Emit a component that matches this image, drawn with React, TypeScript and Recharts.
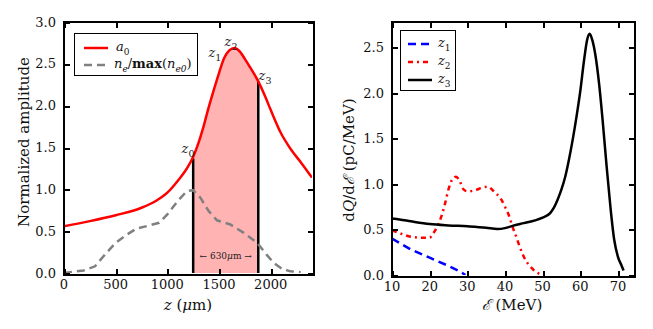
import React from 'react';
import {
  ComposedChart,
  LineChart,
  Line,
  Area,
  XAxis,
  YAxis,
  ReferenceLine,
  ReferenceDot,
} from 'recharts';

// left panel: laser amplitude and density profile along z (um)
const zA0 = [0, 250, 500, 750, 900, 1000, 1100, 1200, 1250, 1300, 1350, 1400, 1450, 1500, 1550, 1600, 1650, 1700, 1750, 1800, 1880, 1950, 2000, 2100, 2200, 2300, 2400];
const a0 = [0.56, 0.62, 0.69, 0.78, 0.87, 0.96, 1.1, 1.27, 1.39, 1.55, 1.75, 1.98, 2.19, 2.39, 2.57, 2.66, 2.69, 2.65, 2.56, 2.46, 2.29, 2.1, 1.95, 1.67, 1.47, 1.31, 1.14];
const zNe = [0, 190, 300, 410, 500, 610, 700, 800, 920, 1000, 1100, 1190, 1250, 1320, 1400, 1480, 1610, 1740, 1870, 1960, 2030, 2110, 2190, 2290];
const ne = [0.0, 0.03, 0.08, 0.24, 0.36, 0.46, 0.53, 0.56, 0.6, 0.7, 0.86, 0.98, 0.99, 0.9, 0.74, 0.63, 0.58, 0.48, 0.36, 0.22, 0.12, 0.05, 0.02, 0.01];
const shadeFrom = 1250;
const shadeTo = 1880;
const zTicks = [0, 500, 1000, 1500, 2000];
const ampTicks = [0, 0.5, 1, 1.5, 2, 2.5, 3];

// z labels (text anchor points in data coords)
const zMarks = [
  { name: '0', z: 1200, a: 1.49 },
  { name: '1', z: 1460, a: 2.64 },
  { name: '2', z: 1616, a: 2.77 },
  { name: '3', z: 1945, a: 2.37 },
];

// right panel: spectra dQ/dE (pC/MeV) vs energy (MeV)
const eZ1 = [10, 15, 20, 25, 28, 29.5];
const qZ1 = [0.4, 0.28, 0.19, 0.1, 0.04, 0];
const eZ2 = [10, 12, 15, 18, 20, 21, 22, 23, 24, 25, 26, 27, 28, 29, 30, 32, 34, 35.5, 37, 39, 40, 41, 42, 43, 44, 45, 46, 47, 48, 49, 50];
const qZ2 = [0.49, 0.46, 0.42, 0.41, 0.41, 0.46, 0.53, 0.63, 0.77, 0.94, 1.05, 1.08, 1.03, 0.94, 0.92, 0.93, 0.96, 0.97, 0.92, 0.83, 0.75, 0.66, 0.53, 0.42, 0.3, 0.2, 0.13, 0.08, 0.04, 0.015, 0];
const eZ3 = [10, 12, 15, 20, 25, 30, 35, 38, 40, 42, 45, 48, 50, 52, 53, 54, 55, 56, 57, 58, 59, 60, 61, 61.8, 62.5, 63.2, 64, 65, 66, 67, 68, 69, 70, 71, 71.5];
const qZ3 = [0.62, 0.61, 0.59, 0.56, 0.545, 0.535, 0.52, 0.505, 0.515, 0.54, 0.57, 0.6, 0.63, 0.68, 0.74, 0.83, 0.94, 1.08, 1.27, 1.49, 1.74, 2.02, 2.36, 2.58, 2.65, 2.58, 2.42, 2.1, 1.67, 1.19, 0.75, 0.39, 0.2, 0.1, 0.05];
const eTicks = [10, 20, 30, 40, 50, 60, 70];
const qTicks = [0, 0.5, 1, 1.5, 2, 2.5];

const a0Data = zA0.map((z, i) => ({ z, v: a0[i] }));
const neData = zNe.map((z, i) => ({ z, v: ne[i] }));
const shadeData = a0Data.filter((d) => d.z >= shadeFrom && d.z <= shadeTo);
const z1Data = eZ1.map((e, i) => ({ e, v: qZ1[i] }));
const z2Data = eZ2.map((e, i) => ({ e, v: qZ2[i] }));
const z3Data = eZ3.map((e, i) => ({ e, v: qZ3[i] }));

const FONT = "'DejaVu Serif', 'Liberation Serif', serif";
const tickStyle = { fontSize: 13, fill: '#111', fontFamily: FONT };
const TICK_PX = 5;

// plot boxes follow from the chart margins + axis sizes below
const LEFT = { w: 330, h: 329, margin: { top: 22, right: 18, bottom: 26, left: 34 } };
const RIGHT = { w: 323, h: 329, margin: { top: 22, right: 20, bottom: 24, left: 32 } };
const AXIS_W = 30;
const AXIS_H = 30;

// matplotlib-style box with inward ticks on all four sides, laid over the plot area
// as plain html (bordered div + small tick bars), like the legend boxes
function FrameBox(props: { chart: typeof LEFT; xDomain: number[]; xTicks: number[]; yDomain: number[]; yTicks: number[] }) {
  const { chart, xDomain, xTicks, yDomain, yTicks } = props;
  const left = chart.margin.left + AXIS_W;
  const top = chart.margin.top;
  const w = chart.w - chart.margin.right - left;
  const h = chart.h - chart.margin.bottom - AXIS_H - top;
  const sx = (v: number) => ((v - xDomain[0]) / (xDomain[1] - xDomain[0])) * w;
  const sy = (v: number) => h - ((v - yDomain[0]) / (yDomain[1] - yDomain[0])) * h;
  const bar = (l: number, t: number, bw: number, bh: number, k: string) => (
    <div key={k} style={{ position: 'absolute', left: l, top: t, width: bw, height: bh, background: '#000' }} />
  );
  return (
    <div
      style={{
        position: 'absolute',
        left: left - 1,
        top: top - 1,
        width: w,
        height: h,
        border: '2px solid #000',
        pointerEvents: 'none',
      }}
    >
      {xTicks.map((t) => [
        bar(sx(t) - 1, h - TICK_PX, 2, TICK_PX, `xb${t}`),
        bar(sx(t) - 1, 0, 2, TICK_PX, `xt${t}`),
      ])}
      {yTicks.map((t) => [
        bar(0, sy(t) - 1, TICK_PX, 2, `yl${t}`),
        bar(w - TICK_PX, sy(t) - 1, TICK_PX, 2, `yr${t}`),
      ])}
    </div>
  );
}

const ZLabel = (props: any) => {
  const { viewBox, idx } = props;
  return (
    <text x={viewBox.x} y={viewBox.y + 5} textAnchor="middle" fontFamily={FONT} fill="#222" fontSize={13}>
      <tspan fontStyle="italic">z</tspan>
      <tspan dy={4} fontSize={9.5}>{idx}</tspan>
    </text>
  );
};

const WidthLabel = (props: any) => {
  const { viewBox } = props;
  return (
    <text x={viewBox.x} y={viewBox.y + 4} textAnchor="middle" fontFamily={FONT} fill="#222" fontSize={9}>
      {'\u2190 630'}
      <tspan fontStyle="italic">{'\u03bc'}</tspan>
      {'m \u2192'}
    </text>
  );
};

const LegendLine = ({ color, dash }: { color: string; dash?: string }) => (
  <svg width={26} height={8} style={{ display: 'block' }}>
    <line x1={1} y1={4} x2={25} y2={4} stroke={color} strokeWidth={2.5} strokeDasharray={dash} />
  </svg>
);

const mathText: React.CSSProperties = { fontFamily: FONT, fontSize: 13, color: '#111', whiteSpace: 'nowrap', lineHeight: 1 };

export default function App() {
  return (
    <div style={{ position: 'absolute', left: 0, top: 0, width: 653, height: 329, background: '#fff' }}>
      {/* left panel */}
      <div style={{ position: 'absolute', left: 0, top: 0, width: LEFT.w, height: LEFT.h }}>
        <ComposedChart width={LEFT.w} height={LEFT.h} margin={LEFT.margin}>
          <XAxis
            xAxisId="b"
            type="number"
            dataKey="z"
            domain={[0, 2400]}
            ticks={zTicks}
            allowDataOverflow
            axisLine={false}
            tickLine={false}
            tickSize={0}
            tickMargin={7}
            tick={tickStyle}
            height={AXIS_H}
          />
          <YAxis
            yAxisId="l"
            type="number"
            domain={[0, 3]}
            ticks={ampTicks}
            allowDataOverflow
            axisLine={false}
            tickLine={false}
            tickSize={0}
            tickMargin={8}
            tick={tickStyle}
            tickFormatter={(v: number) => v.toFixed(1)}
            width={AXIS_W}
          />
          <Area
            xAxisId="b"
            yAxisId="l"
            data={shadeData}
            dataKey="v"
            type="monotone"
            fill="#ffb3b3"
            fillOpacity={1}
            stroke="none"
            isAnimationActive={false}
          />
          <ReferenceLine
            xAxisId="b"
            yAxisId="l"
            segment={[{ x: shadeFrom, y: 0 }, { x: shadeFrom, y: 1.37 }]}
            stroke="#000"
            strokeWidth={2.5}
          />
          <ReferenceLine
            xAxisId="b"
            yAxisId="l"
            segment={[{ x: shadeTo, y: 0 }, { x: shadeTo, y: 2.29 }]}
            stroke="#000"
            strokeWidth={2.5}
          />
          <Line
            xAxisId="b"
            yAxisId="l"
            data={neData}
            dataKey="v"
            type="linear"
            stroke="#808080"
            strokeWidth={2.5}
            strokeDasharray="8 5"
            dot={false}
            isAnimationActive={false}
          />
          <Line
            xAxisId="b"
            yAxisId="l"
            data={a0Data}
            dataKey="v"
            type="monotone"
            stroke="#ff0000"
            strokeWidth={2.5}
            dot={false}
            isAnimationActive={false}
          />
          {zMarks.map((m) => (
            <ReferenceDot
              key={m.name}
              xAxisId="b"
              yAxisId="l"
              x={m.z}
              y={m.a}
              r={0}
              fill="none"
              stroke="none"
              label={<ZLabel idx={m.name} />}
            />
          ))}
          <ReferenceDot
            xAxisId="b"
            yAxisId="l"
            x={(shadeFrom + shadeTo) / 2}
            y={0.21}
            r={0}
            fill="none"
            stroke="none"
            label={<WidthLabel />}
          />
        </ComposedChart>
        <FrameBox chart={LEFT} xDomain={[0, 2400]} xTicks={zTicks} yDomain={[0, 3]} yTicks={ampTicks} />
        {/* legend */}
        <div
          style={{
            position: 'absolute',
            left: 74,
            top: 33,
            width: 122,
            height: 41,
            border: '1.5px solid #000',
            background: '#fff',
          }}
        >
          <div style={{ position: 'absolute', left: 8, top: 6, display: 'flex', alignItems: 'center', gap: 7 }}>
            <LegendLine color="#ff0000" />
            <span style={{ ...mathText, fontStyle: 'italic' }}>
              a<sub style={{ fontSize: 9, fontStyle: 'normal' }}>0</sub>
            </span>
          </div>
          <div style={{ position: 'absolute', left: 8, top: 23, display: 'flex', alignItems: 'center', gap: 5 }}>
            <LegendLine color="#808080" dash="8 5" />
            <span style={mathText}>
              <i>n</i>
              <sub style={{ fontSize: 9, fontStyle: 'italic' }}>e</sub>/<b>max</b>(<i>n</i>
              <sub style={{ fontSize: 9, fontStyle: 'italic' }}>e0</sub>)
            </span>
          </div>
        </div>
        {/* axis titles */}
        <div style={{ ...mathText, position: 'absolute', left: 188, top: 305, transform: 'translate(-50%, -50%)', fontSize: 15 }}>
          <i>z</i> (<i>{'\u03bc'}</i>m)
        </div>
        <div
          style={{
            ...mathText,
            position: 'absolute',
            left: 24,
            top: 142,
            transform: 'translate(-50%, -50%) rotate(-90deg)',
            fontSize: 15,
          }}
        >
          Normalized amplitude
        </div>
      </div>

      {/* right panel */}
      <div style={{ position: 'absolute', left: 330, top: 0, width: RIGHT.w, height: RIGHT.h }}>
        <LineChart width={RIGHT.w} height={RIGHT.h} margin={RIGHT.margin}>
          <XAxis
            xAxisId="b"
            type="number"
            dataKey="e"
            domain={[10, 74]}
            ticks={eTicks}
            allowDataOverflow
            axisLine={false}
            tickLine={false}
            tickSize={0}
            tickMargin={7}
            tick={tickStyle}
            height={AXIS_H}
          />
          <YAxis
            yAxisId="l"
            type="number"
            domain={[0, 2.78]}
            ticks={qTicks}
            allowDataOverflow
            axisLine={false}
            tickLine={false}
            tickSize={0}
            tickMargin={8}
            tick={tickStyle}
            tickFormatter={(v: number) => v.toFixed(1)}
            width={AXIS_W}
          />
          <Line
            xAxisId="b"
            yAxisId="l"
            data={z1Data}
            dataKey="v"
            type="linear"
            stroke="#0000ff"
            strokeWidth={2.5}
            strokeDasharray="8 5"
            dot={false}
            isAnimationActive={false}
          />
          <Line
            xAxisId="b"
            yAxisId="l"
            data={z2Data}
            dataKey="v"
            type="monotone"
            stroke="#ff0000"
            strokeWidth={2.5}
            strokeDasharray="5 4 2 4"
            dot={false}
            isAnimationActive={false}
          />
          <Line
            xAxisId="b"
            yAxisId="l"
            data={z3Data}
            dataKey="v"
            type="monotone"
            stroke="#000"
            strokeWidth={2.5}
            dot={false}
            isAnimationActive={false}
          />
        </LineChart>
        <FrameBox chart={RIGHT} xDomain={[10, 74]} xTicks={eTicks} yDomain={[0, 2.78]} yTicks={qTicks} />
        {/* legend */}
        <div
          style={{
            position: 'absolute',
            left: 70,
            top: 30,
            width: 54,
            height: 59,
            border: '1.5px solid #000',
            background: '#fff',
          }}
        >
          {[
            { color: '#0000ff', dash: '8 5', idx: '1', top: 5 },
            { color: '#ff0000', dash: '5 4 2 4', idx: '2', top: 23 },
            { color: '#000', dash: undefined, idx: '3', top: 41 },
          ].map((r) => (
            <div key={r.idx} style={{ position: 'absolute', left: 6, top: r.top, display: 'flex', alignItems: 'center', gap: 5 }}>
              <LegendLine color={r.color} dash={r.dash} />
              <span style={{ ...mathText, fontStyle: 'italic' }}>
                z<sub style={{ fontSize: 9, fontStyle: 'normal' }}>{r.idx}</sub>
              </span>
            </div>
          ))}
        </div>
        {/* axis titles */}
        <div style={{ ...mathText, position: 'absolute', left: 182, top: 305, transform: 'translate(-50%, -50%)', fontSize: 15 }}>
          <i>{'\u2130'}</i> (MeV)
        </div>
        <div
          style={{
            ...mathText,
            position: 'absolute',
            left: 19,
            top: 160,
            transform: 'translate(-50%, -50%) rotate(-90deg)',
            fontSize: 15,
          }}
        >
          d<i>Q</i>/d<i>{'\u2130'}</i> (pC/MeV)
        </div>
      </div>
    </div>
  );
}
